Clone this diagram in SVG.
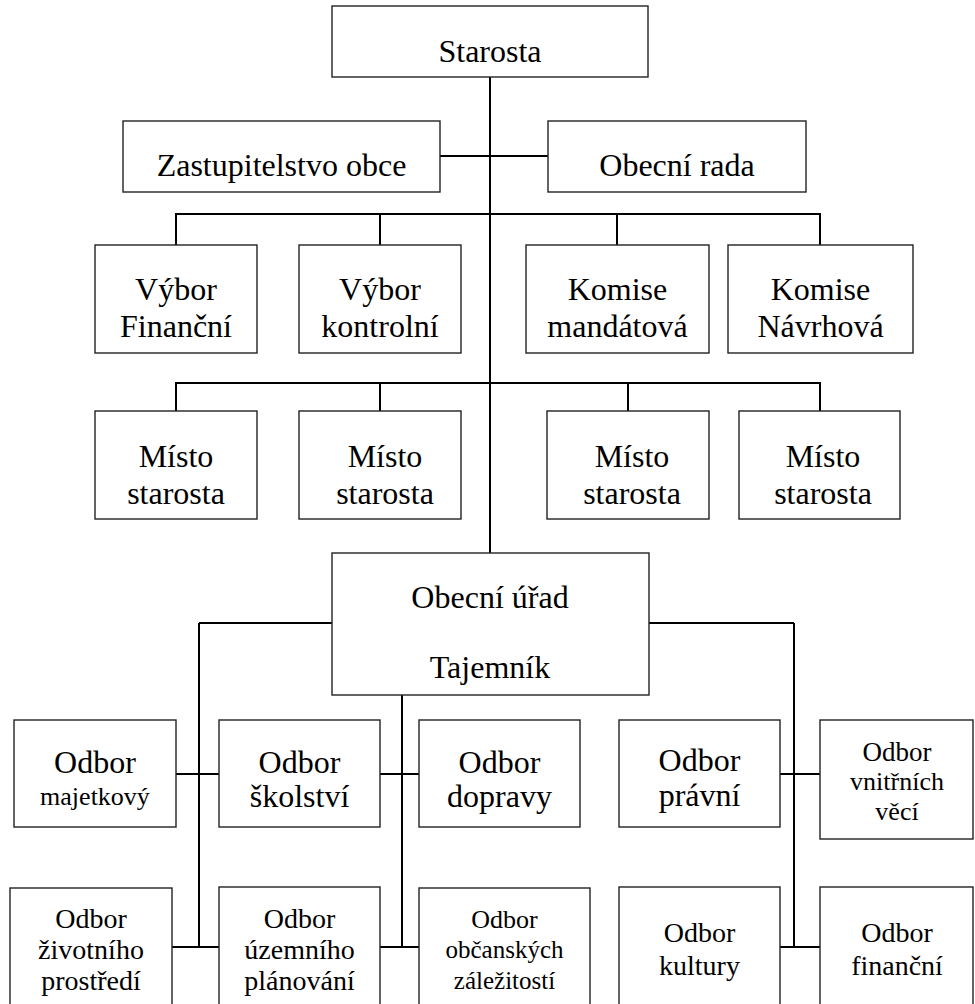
<svg xmlns="http://www.w3.org/2000/svg" width="975" height="1004" viewBox="0 0 975 1004">
<style>
.b{fill:#fff;stroke:#222;stroke-width:1.4}
.t{font-family:"Liberation Serif","Times New Roman",serif;fill:#000;text-anchor:middle}
.c{fill:none;stroke:#000;stroke-width:2}
</style>
<rect width="975" height="1004" fill="#fff"/>
<g id="connectors">
<path class="c" d="M490 77V553M440 156H548M176 245V214H820V245M380 214V245M617 214V245M176 411V383H820V411M380 383V411M628 383V411"/>
<path class="c" d="M199 623H794M199 623V947M794 623V947M402 695V947M176 774H219M380 774H419M780 774H820M172 947H219M380 947H419M780 947H820"/>
</g>
<g id="starosta"><rect class="b" x="332" y="6" width="316" height="71"/><text class="t" x="490" y="62" font-size="32">Starosta</text></g>
<g id="zastupitelstvo"><rect class="b" x="123" y="121" width="317" height="71"/><text class="t" x="281.5" y="176" font-size="32">Zastupitelstvo obce</text></g>
<g id="obecni-rada"><rect class="b" x="548" y="121" width="258" height="71"/><text class="t" x="677" y="176" font-size="32">Obecní rada</text></g>
<g id="vybor-financni"><rect class="b" x="95" y="245" width="162" height="108"/><text class="t" x="176" y="300" font-size="32">Výbor</text><text class="t" x="176" y="337" font-size="32">Finanční</text></g>
<g id="vybor-kontrolni"><rect class="b" x="299" y="245" width="162" height="108"/><text class="t" x="380" y="300" font-size="32">Výbor</text><text class="t" x="380" y="337" font-size="32">kontrolní</text></g>
<g id="komise-mandatova"><rect class="b" x="526" y="245" width="183" height="108"/><text class="t" x="617.5" y="300" font-size="32">Komise</text><text class="t" x="617.5" y="337" font-size="32">mandátová</text></g>
<g id="komise-navrhova"><rect class="b" x="728" y="245" width="185" height="108"/><text class="t" x="820.5" y="300" font-size="32">Komise</text><text class="t" x="820.5" y="337" font-size="32">Návrhová</text></g>
<g id="misto-1"><rect class="b" x="95" y="411" width="162" height="108"/><text class="t" x="176" y="467" font-size="32">Místo</text><text class="t" x="176" y="504" font-size="32">starosta</text></g>
<g id="misto-2"><rect class="b" x="299" y="411" width="162" height="108"/><text class="t" x="385" y="467" font-size="32">Místo</text><text class="t" x="385" y="504" font-size="32">starosta</text></g>
<g id="misto-3"><rect class="b" x="547" y="411" width="162" height="108"/><text class="t" x="632" y="467" font-size="32">Místo</text><text class="t" x="632" y="504" font-size="32">starosta</text></g>
<g id="misto-4"><rect class="b" x="739" y="411" width="161" height="108"/><text class="t" x="823" y="467" font-size="32">Místo</text><text class="t" x="823" y="504" font-size="32">starosta</text></g>
<g id="obecni-urad"><rect class="b" x="332" y="553" width="317" height="142"/><text class="t" x="490" y="608" font-size="32">Obecní úřad</text><text class="t" x="490" y="678" font-size="32">Tajemník</text></g>
<g id="odbor-majetkovy"><rect class="b" x="14" y="720" width="162" height="107"/><text class="t" x="95" y="773" font-size="32">Odbor</text><text class="t" x="95" y="805" font-size="26">majetkový</text></g>
<g id="odbor-skolstvi"><rect class="b" x="219" y="720" width="161" height="107"/><text class="t" x="299.5" y="773" font-size="32">Odbor</text><text class="t" x="299.5" y="807" font-size="32">školství</text></g>
<g id="odbor-dopravy"><rect class="b" x="419" y="720" width="161" height="107"/><text class="t" x="499.5" y="773" font-size="32">Odbor</text><text class="t" x="499.5" y="807" font-size="32">dopravy</text></g>
<g id="odbor-pravni"><rect class="b" x="619" y="720" width="161" height="107"/><text class="t" x="699.5" y="771" font-size="32">Odbor</text><text class="t" x="699.5" y="806" font-size="32">právní</text></g>
<g id="odbor-vnitrnich-veci"><rect class="b" x="820" y="720" width="153" height="119"/><text class="t" x="897" y="761" font-size="27">Odbor</text><text class="t" x="897" y="790" font-size="26">vnitřních</text><text class="t" x="897" y="820" font-size="26">věcí</text></g>
<g id="odbor-zivotniho-prostredi"><rect class="b" x="10" y="888" width="162" height="130"/><text class="t" x="91" y="928" font-size="28">Odbor</text><text class="t" x="91" y="959" font-size="28">životního</text><text class="t" x="91" y="990" font-size="28">prostředí</text></g>
<g id="odbor-uzemniho-planovani"><rect class="b" x="219" y="887" width="161" height="130"/><text class="t" x="299.5" y="928" font-size="28">Odbor</text><text class="t" x="299.5" y="959" font-size="28">územního</text><text class="t" x="299.5" y="990" font-size="28">plánování</text></g>
<g id="odbor-obcanskych-zalezitosti"><rect class="b" x="419" y="888" width="171" height="130"/><text class="t" x="504.5" y="928" font-size="26">Odbor</text><text class="t" x="504.5" y="958" font-size="25">občanských</text><text class="t" x="504.5" y="989" font-size="25">záležitostí</text></g>
<g id="odbor-kultury"><rect class="b" x="619" y="887" width="161" height="130"/><text class="t" x="699.5" y="942" font-size="28">Odbor</text><text class="t" x="699.5" y="975" font-size="28">kultury</text></g>
<g id="odbor-financni"><rect class="b" x="820" y="887" width="153" height="130"/><text class="t" x="897" y="942" font-size="28">Odbor</text><text class="t" x="897" y="975" font-size="28">finanční</text></g>
</svg>
